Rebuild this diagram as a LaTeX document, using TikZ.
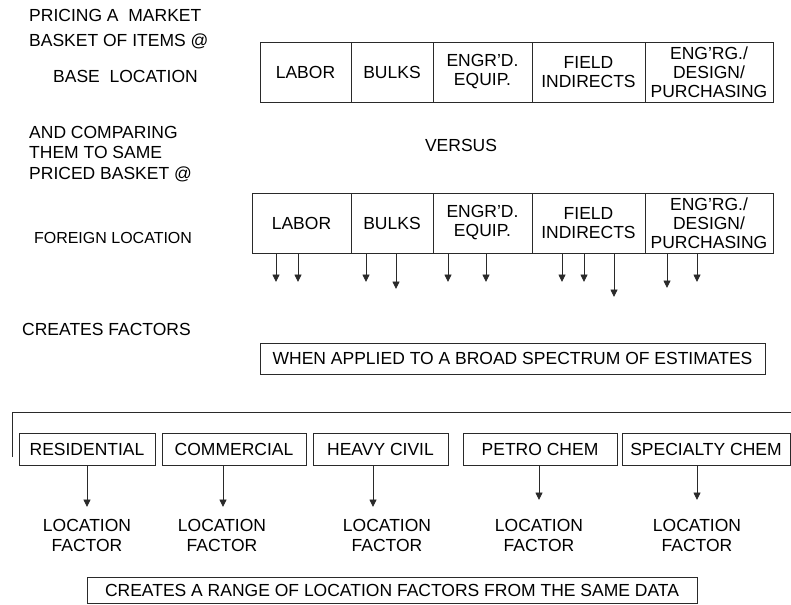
\documentclass[tikz,border=0pt]{standalone}
\usepackage{fontspec}
\setmainfont{Liberation Sans}
\usetikzlibrary{arrows.meta}
\definecolor{lc}{HTML}{2A2A2A}
\begin{document}
\begin{tikzpicture}[x=1pt,y=-1pt,
  txt/.style={font=\fontsize{17.5}{20}\selectfont, inner sep=0pt, text=black},
  cell/.style={draw=lc, line width=0.9pt, minimum height=60pt, inner sep=0pt, align=center, font=\fontsize{17.5}{19}\selectfont},
  cat/.style={draw=lc, line width=0.9pt, minimum height=32pt, inner sep=0pt, font=\fontsize{17.5}{20}\selectfont},
  arr/.style={draw=lc, line width=0.9pt, -{Triangle[length=7.5pt,width=7pt]}},
  ln/.style={draw=lc, line width=0.9pt}]
\useasboundingbox (0,0) rectangle (791,604);

% left texts
\node[txt, anchor=base west] (l1) at (29,22) {PRICING A\ \ MARKET};
\node[txt, anchor=base west] (l2) at (29,47) {BASKET OF ITEMS @};
\node[txt, anchor=base west] (l3) at (53,83) {BASE\ \ LOCATION};
\node[txt, anchor=base west] (l4) at (29,139) {AND COMPARING};
\node[txt, anchor=base west] (l5) at (29,159) {THEM TO SAME};
\node[txt, anchor=base west] (l6) at (29,179) {PRICED BASKET @};
\node[txt, anchor=base, font=\fontsize{16}{19}\selectfont] (l7) at (113,243) {FOREIGN LOCATION};
\node[txt, anchor=base] (vs) at (461,152) {VERSUS};
\node[txt, anchor=base west] (cf) at (22,335) {CREATES FACTORS};

% base row
\node[cell, minimum width=91pt] (tlab) at (305.5,72) {LABOR};
\node[cell, minimum width=82pt] (tbul) at (392,72) {BULKS};
\node[cell, minimum width=99pt] (teq) at (482.5,72) {ENGR’D.\\EQUIP.};
\node[cell, minimum width=113pt] (tfi) at (588.5,72) {FIELD\\INDIRECTS};
\node[cell, minimum width=128pt] (ten) at (709,72) {ENG’RG./\\DESIGN/\\PURCHASING};

% foreign row
\node[cell, minimum width=99pt] (flab) at (301.5,223) {LABOR};
\node[cell, minimum width=82pt] (fbul) at (392,223) {BULKS};
\node[cell, minimum width=99pt] (feq) at (482.5,223) {ENGR’D.\\EQUIP.};
\node[cell, minimum width=113pt] (ffi) at (588.5,223) {FIELD\\INDIRECTS};
\node[cell, minimum width=128pt] (fen) at (709,223) {ENG’RG./\\DESIGN/\\PURCHASING};

% factor arrows
\coordinate (a1) at (276,282);
\coordinate (a2) at (298,282);
\coordinate (a3) at (366,282);
\coordinate (a4) at (396,289);
\coordinate (a5) at (448,282);
\coordinate (a6) at (486,282);
\coordinate (a7) at (562,282);
\coordinate (a8) at (584,282);
\coordinate (a9) at (614,297);
\coordinate (a10) at (667,288);
\coordinate (a11) at (697,282);
\draw[arr] (a1 |- flab.south) -- (a1);
\draw[arr] (a2 |- flab.south) -- (a2);
\draw[arr] (a3 |- fbul.south) -- (a3);
\draw[arr] (a4 |- fbul.south) -- (a4);
\draw[arr] (a5 |- feq.south) -- (a5);
\draw[arr] (a6 |- feq.south) -- (a6);
\draw[arr] (a7 |- ffi.south) -- (a7);
\draw[arr] (a8 |- ffi.south) -- (a8);
\draw[arr] (a9 |- ffi.south) -- (a9);
\draw[arr] (a10 |- fen.south) -- (a10);
\draw[arr] (a11 |- fen.south) -- (a11);

% when applied box
\node[cat, minimum width=505pt, minimum height=31pt] (wa) at (512.5,358.5) {WHEN APPLIED TO A BROAD SPECTRUM OF ESTIMATES};

% bracket
\coordinate (bl) at (12,457);
\coordinate (br) at (791,412);
\draw[ln] (bl) |- (br);

% categories
\node[cat, minimum width=136pt] (res) at (87,449) {RESIDENTIAL};
\node[cat, minimum width=144pt] (com) at (234,449) {COMMERCIAL};
\node[cat, minimum width=135pt] (hvy) at (380.5,449) {HEAVY CIVIL};
\node[cat, minimum width=154pt] (pet) at (540,449) {PETRO CHEM};
\node[cat, minimum width=168pt] (spc) at (706,449) {SPECIALTY CHEM};

\coordinate (b1) at (87,507);
\coordinate (b2) at (223,507);
\coordinate (b3) at (373,507);
\coordinate (b4) at (539,500);
\coordinate (b5) at (697,500);
\draw[arr] (b1 |- res.south) -- (b1);
\draw[arr] (b2 |- com.south) -- (b2);
\draw[arr] (b3 |- hvy.south) -- (b3);
\draw[arr] (b4 |- pet.south) -- (b4);
\draw[arr] (b5 |- spc.south) -- (b5);

\node[txt, align=center] (lf1) at (87,535) {LOCATION\\FACTOR};
\node[txt, align=center] (lf2) at (222,535) {LOCATION\\FACTOR};
\node[txt, align=center] (lf3) at (387,535) {LOCATION\\FACTOR};
\node[txt, align=center] (lf4) at (539,535) {LOCATION\\FACTOR};
\node[txt, align=center] (lf5) at (697,535) {LOCATION\\FACTOR};

\node[cat, minimum width=610pt, minimum height=26pt] (rng) at (392,590) {CREATES A RANGE OF LOCATION FACTORS FROM THE SAME DATA};
\end{tikzpicture}
\end{document}
